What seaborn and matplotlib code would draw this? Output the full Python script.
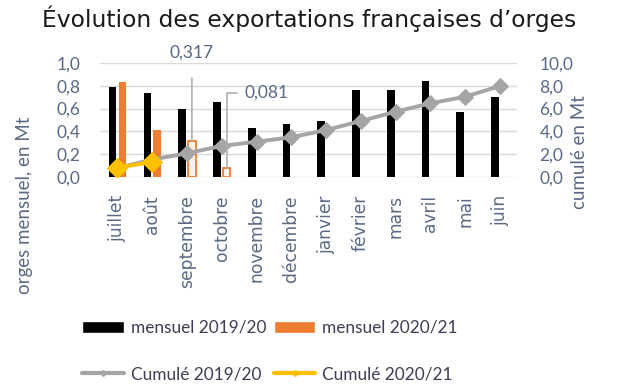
import numpy as np
import pandas as pd
import matplotlib
matplotlib.use("Agg")
import matplotlib.pyplot as plt
from matplotlib.patches import Patch
from matplotlib.lines import Line2D
from matplotlib.ticker import FuncFormatter
import seaborn as sns

# Monthly barley exports (Mt) and cumulated totals
months = ["juillet", "août", "septembre", "octobre", "novembre", "décembre",
          "janvier", "février", "mars", "avril", "mai", "juin"]
mensuel_1920 = [0.79, 0.74, 0.60, 0.655, 0.43, 0.465, 0.49, 0.76, 0.76, 0.845, 0.57, 0.70]
mensuel_2021 = [0.83, 0.41, 0.317, 0.081] + [np.nan] * 8
cumul_1920 = [0.79, 1.53, 2.08, 2.72, 3.10, 3.48, 4.12, 4.91, 5.73, 6.46, 7.04, 7.98]
cumul_2021 = [0.83, 1.31]
provisional = {"septembre", "octobre"}  # months drawn as hollow bars with a value callout

s1, s2 = "mensuel 2019/20", "mensuel 2020/21"
c1, c2 = "Cumulé 2019/20", "Cumulé 2020/21"

TXT = "#5a6a84"
GRID = "#d9d9d9"
BLACK, ORANGE, GREY, GOLD = "#000000", "#ED7D31", "#A5A5A5", "#FFC000"

sns.set_theme(style="white")
plt.rcParams["font.family"] = ["Lato", "DejaVu Sans"]

df = pd.DataFrame({
    "mois": months * 2,
    "valeur": mensuel_1920 + mensuel_2021,
    "serie": [s1] * len(months) + [s2] * len(months),
}).dropna()

fig = plt.figure(figsize=(6.18, 3.86), dpi=100)
ax = fig.add_axes([0.162, 0.5415, 0.675, 0.2953])

sns.barplot(data=df, x="mois", y="valeur", hue="serie", order=months,
            hue_order=[s1, s2], palette=[BLACK, ORANGE], width=0.56,
            dodge=True, gap=0, saturation=1, legend=False, ax=ax)

# narrow the bars around their centres; hollow style for provisional months
bar_w = 0.22
for p in ax.patches:
    cx = p.get_x() + p.get_width() / 2
    p.set_width(bar_w)
    p.set_x(cx - bar_w / 2)
    p.set_edgecolor("none")
    idx = int(round(cx))
    if cx > idx and months[idx] in provisional:
        p.set_facecolor("#fdf1e8")
        p.set_edgecolor(ORANGE)
        p.set_linewidth(1.3)

ax.set_ylim(0, 1.0)
ax.set_xlim(-0.5, len(months) - 0.5)
ax.set_yticks(np.arange(0, 1.01, 0.2))
ax.yaxis.set_major_formatter(FuncFormatter(lambda v, _: f"{v:.1f}".replace(".", ",")))
ax.grid(axis="y", color=GRID, linewidth=1)
ax.set_axisbelow(True)
for side in ["top", "right", "left", "bottom"]:
    ax.spines[side].set_visible(False)
ax.tick_params(axis="y", length=0, pad=14, labelsize=12.5, labelcolor=TXT)
ax.tick_params(axis="x", length=0, pad=13, labelcolor=TXT)
for lab in ax.get_xticklabels():
    lab.set_rotation(90)
    lab.set_va("top")
    lab.set_ha("center")
    lab.set_fontfamily(["DejaVu Sans"])
    lab.set_fontsize(12.3)
ax.set_xlabel("")
ax.set_ylabel("orges mensuel, en Mt", fontsize=13.5, color=TXT)
ax.yaxis.set_label_coords(-0.16, -0.25)

# cumulated series on the secondary axis
ax2 = ax.twinx()
xpos = np.arange(len(months))
sns.lineplot(x=xpos, y=cumul_1920, color=GREY, linewidth=2.8, marker="D",
             markersize=8.5, markeredgecolor=GREY, ax=ax2, legend=False)
sns.lineplot(x=xpos[:len(cumul_2021)], y=cumul_2021, color=GOLD, linewidth=2.8,
             marker="D", markersize=10, markeredgecolor=GOLD, ax=ax2, legend=False)
ax2.set_ylim(0, 10)
ax2.set_yticks(np.arange(0, 10.1, 2))
ax2.yaxis.set_major_formatter(FuncFormatter(lambda v, _: f"{v:.1f}".replace(".", ",")))
for side in ["top", "right", "left", "bottom"]:
    ax2.spines[side].set_visible(False)
ax2.tick_params(axis="y", length=0, pad=16, labelsize=12.5, labelcolor=TXT)
ax2.set_ylabel("cumulé en Mt", fontsize=13.5, color=TXT)
ax2.yaxis.set_label_coords(1.13, 0.22)
ax2.set_xlim(-0.5, len(months) - 0.5)

# value callouts for the provisional months
off = 0.14
i_sep = months.index("septembre")
ax2.annotate(f"{mensuel_2021[i_sep]:.3f}".replace(".", ","),
             xy=(i_sep + off, mensuel_2021[i_sep] * 10), xycoords="data",
             xytext=(i_sep + off, 10.9), textcoords="data",
             ha="center", va="center", fontsize=12.5, color=TXT,
             arrowprops=dict(arrowstyle="-", color="#b0b0b0", lw=1.2,
                             shrinkA=10, shrinkB=0, relpos=(0.5, 0)),
             annotation_clip=False)
i_oct = months.index("octobre")
ax2.annotate(f"{mensuel_2021[i_oct]:.3f}".replace(".", ","),
             xy=(i_oct + off, mensuel_2021[i_oct] * 10), xycoords="data",
             xytext=(i_oct + 0.65, 7.4), textcoords="data",
             ha="left", va="center", fontsize=12.5, color=TXT,
             arrowprops=dict(arrowstyle="-", color="#b0b0b0", lw=1.2,
                             shrinkA=3, shrinkB=0, relpos=(0, 0.5),
                             connectionstyle="angle,angleA=0,angleB=90,rad=0"),
             annotation_clip=False)

fig.suptitle("Évolution des exportations françaises d’orges", x=0.5, y=0.985,
             fontsize=16.8, color="#1a1a1a", fontfamily=["DejaVu Sans"])

handles = [
    Patch(facecolor=BLACK, label=s1),
    Line2D([0], [0], color=GREY, lw=3, marker="D", markersize=3, label=c1),
    Patch(facecolor=ORANGE, label=s2),
    Line2D([0], [0], color=GOLD, lw=3, marker="D", markersize=3, label=c2),
]
fig.legend(handles=handles, ncol=2, loc="lower center", bbox_to_anchor=(0.437, -0.03),
           frameon=False, fontsize=12.4, labelcolor="#3c3f55", handlelength=2.4,
           handleheight=0.7, handletextpad=0.4, columnspacing=0.45, labelspacing=1.75)

fig.savefig("out.png", dpi=100)
